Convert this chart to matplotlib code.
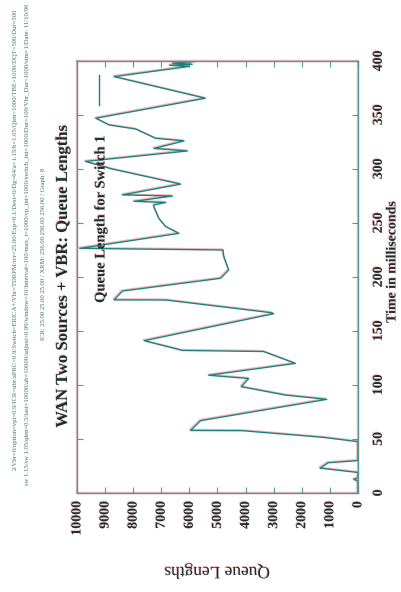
import matplotlib
matplotlib.use('Agg')
import matplotlib.pyplot as plt
import matplotlib.patheffects as pe
from matplotlib.lines import Line2D

# Dados (tempo em ms, comprimento da fila)
time_ms = [0, 11, 12.5, 14, 19, 23, 28, 30, 47.5, 51.5, 57.7, 57.9, 67, 86.7, 90.7, 98.4,
           106, 109, 120, 131, 132, 141, 166, 167, 178.7, 178.8, 187, 198.8, 206.5, 218.8, 223, 225,
           226.5, 240.4, 246.6, 254, 265, 266.7, 269, 270, 275, 276, 286, 300, 307, 316.7, 319, 326,
           328.4, 337, 340.7, 347, 365.5, 385.5, 395, 396, 397, 398, 399.5]
queue_len = [0, 0, 150, 0, 0, 1350, 1060, 0, 0, 1230, 4120, 5960, 5600, 1110, 2590, 4150,
             3890, 5310, 2230, 3360, 6250, 7610, 3000, 3100, 6840, 8680, 8380, 4890, 4600, 4770, 4800, 4800,
             9900, 6370, 6840, 7080, 7260, 7260, 6840, 7970, 6600, 8380, 6310, 8750, 9700, 6070, 7260, 6190,
             7200, 7910, 8850, 9330, 5430, 8680, 6000, 6700, 5900, 6600, 5800]

queue_ticks = list(range(0, 10001, 1000))
time_ticks = list(range(0, 401, 50))

title = 'WAN Two Sources + VBR: Queue Lengths'
legend_label = 'Queue Length for Switch 1'
header_lines = [
    '2-Vbr=0/option=vpi=0.9/ICR=ubr/aPRC=0.9/Switch=ERICA+/Vbr=TDRPM/rcr=25.00/Exp=0.1/Dest=0/'
    'Dg=64/a=1.15/b=1.05/Qlen=1000/TBE=1000/DQT=500/Dur=500',
    'sw 1.15/sw 1.05/qlen=0.5/last=10000/ab=10000/adjust=0.99/window=10/Interval=100/max_t=1000/vp_int=1000/'
    'switch_int=1000/Dur=100/Vbr_Dur=1000/sim=1/Date: 11/10/96',
    'ICR: 25.00 25.00 25.00 / XRM: 256.00 256.00 256.00 / Graph: 8',
]

line_color = '#1f8080'
frame_color = '#4f9a9a'
text_color = '#1c2e2e'
fringe = [pe.SimpleLineShadow(offset=(-0.7, 0.7), shadow_color='#e06060', alpha=0.45), pe.Normal()]
text_fringe = [pe.withSimplePatchShadow(offset=(-0.6, 0.6), shadow_rgbFace='#e06060', alpha=0.45)]

plt.rcParams['font.family'] = ['Liberation Serif', 'DejaVu Serif']

W, H = 402, 592
fig = plt.figure(figsize=(W / 100, H / 100), dpi=100)
ax = fig.add_axes([77 / W, 1 - 493 / H, 281 / W, 432 / H])

ax.plot(queue_len, time_ms, color=line_color, lw=1.0, path_effects=fringe)
ax.set_xlim(10000, 0)
ax.set_ylim(0, 400)

ax.set_xticks(queue_ticks)
ax.set_yticks(time_ticks)
ax.yaxis.tick_right()
ax.tick_params(direction='in', length=4, width=0.8, color=frame_color,
               top=True, bottom=True, left=True, right=True, labelleft=False, labelright=True)
ax.tick_params(axis='x', labelrotation=90, pad=6, labelsize=10)
ax.tick_params(axis='y', labelrotation=90, pad=10, labelsize=10)
for lab in ax.get_xticklabels() + ax.get_yticklabels():
    lab.set_fontweight('bold')
    lab.set_color(text_color)
    lab.set_path_effects(text_fringe)
for lab in ax.get_yticklabels():
    lab.set_va('center')

for sp in ax.spines.values():
    sp.set_color(frame_color)
    sp.set_linewidth(1.0)
    sp.set_path_effects(fringe)

# textos girados (a figura inteira esta rodada 90 graus)
fig.text(63 / W, 1 - 277 / H, title, rotation=90, ha='center', va='center',
         fontsize=12, fontweight='bold', color=text_color, path_effects=text_fringe)
fig.text(101 / W, 1 - 303 / H, legend_label, rotation=90, ha='center', va='bottom',
         fontsize=10.5, fontweight='bold', color=text_color, path_effects=text_fringe)
fig.add_artist(Line2D([99 / W, 99 / W], [1 - 105 / H, 1 - 75 / H], color=line_color, lw=1.0))
fig.text(392 / W, 1 - 262 / H, 'Time in milliseconds', rotation=90, ha='center', va='center',
         fontsize=10, fontweight='bold', color=text_color, path_effects=text_fringe)
fig.text(217 / W, 1 - 571 / H, 'Queue Lengths', rotation=180, ha='center', va='center',
         fontsize=12.5, color=text_color, path_effects=text_fringe)

# cabecalho com os parametros da simulacao
for x, y0, txt in zip([15, 28, 44], [470, 485, 340], header_lines):
    fig.text(x / W, 1 - y0 / H, txt, rotation=90, ha='center', va='bottom',
             fontsize=4.8, color='#3a6e6e')

fig.savefig('out.png', dpi=100)
